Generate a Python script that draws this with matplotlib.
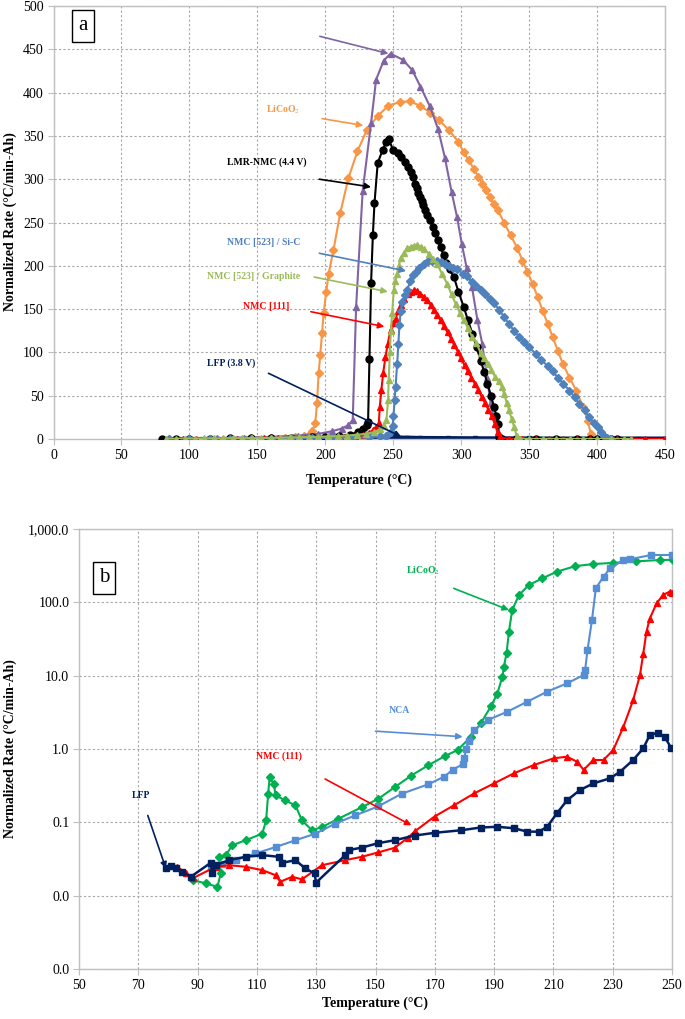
import matplotlib
matplotlib.use('Agg')
import matplotlib.pyplot as plt
from matplotlib.ticker import FixedLocator, FixedFormatter, NullLocator

plt.rcParams['font.family'] = ['Liberation Serif', 'DejaVu Serif']
plt.rcParams['mathtext.fontset'] = 'stix'

# ---------------- panel a : linear rate vs temperature ----------------
T_pur = [80, 100, 120, 140, 160, 180, 195, 205, 212, 217, 220.2, 222.7, 227.5, 233.7, 237.4, 243, 248, 257, 264, 270,
         277, 283, 288, 293, 297, 300.5, 304, 308, 312, 315.5, 319, 321.7, 325, 327.5, 330]
V_pur = [0, 0.5, 1, 1.5, 2.5, 4, 6, 9, 12, 16, 22, 153, 286, 365, 415, 437, 445, 438, 426, 407,
         384, 358, 325, 285, 256, 225, 198, 175, 137, 110, 71, 41, 17, 2, 0]

T_org = [85, 100, 115, 130, 145, 160, 170, 178, 184, 188, 190.5, 192.6, 193.9, 195.1, 196.3, 197.6, 198.8, 200.7, 202.5, 206,
         211, 217, 223.6, 230.6, 238.6, 246.5, 254.7, 262.2, 269.6, 277.1, 283.8, 290.8, 298, 301.9, 305.5, 309.3, 312.5, 315.5,
         318.5, 321.2, 324, 327.1, 331.5, 336.5, 341.4, 345.1, 348.8, 352.6, 356.3, 360, 363.7, 367.4, 371.1, 374.8, 379.7,
         384.7, 389.6, 393.3, 395.3, 397, 400, 405, 410]
V_org = [0, 0.2, 0.3, 0.5, 0.7, 1.0, 1.5, 2.2, 3.5, 5, 9, 18, 41, 76, 97, 122, 145, 170, 191, 218,
         261, 301, 332, 357, 373, 385, 389, 390, 385, 377, 368, 357, 343, 331, 322, 312, 303, 295,
         287, 279, 271, 264, 250, 235, 220, 206, 193, 179, 164, 148, 133, 117.5, 102, 87, 71,
         56, 37, 21, 6, 1, 0, 0, 0]

T_blk = [80, 90, 100, 115, 130, 145, 160, 175, 190, 200, 210, 218, 224, 228, 230.5, 231.5, 232.5, 233.7, 235, 236.2,
         238.6, 242.3, 244.8, 246.8, 249.8, 253.5, 256, 258.5, 261, 263, 264.8, 266, 267.3, 268.5, 270, 271, 272.2, 273.4,
         275.2, 277.1, 279, 280.8, 282.8, 284.9, 287, 289, 291.5, 294.7, 298, 302, 305, 308.3, 311.3, 314.4, 317, 319.3,
         322, 324.2, 326, 327.2, 327.8, 330, 340, 355, 370, 385, 395, 400, 405, 410, 415]
V_blk = [0, 0.2, 0.3, 0.4, 0.6, 0.8, 1.0, 1.3, 1.8, 2.5, 3.5, 5, 8, 12, 16, 20, 92, 180, 235, 272,
         319, 334, 343, 346, 334, 330, 326, 320, 314.6, 308, 303, 294.6, 290, 284, 280, 275, 270, 264.6,
         259, 253, 245, 237.8, 230, 221.5, 212, 203, 196, 186.8, 170, 152, 137, 121.5, 106, 90.6, 77, 63.7,
         50, 36.7, 26, 17.5, 2, 0, 0, 0, 0, 0, 0, 0, 0, 0, 0]

T_blu = [85, 100, 115, 130, 145, 160, 175, 190, 205, 220, 232, 240, 245, 248, 249.5, 250.2, 251, 251.7, 252.9, 253.8,
         254.6, 255.5, 256.6, 258.5, 260.3, 262.7, 264.5, 266.4, 269, 272.5, 275.5, 278.7, 282, 285, 288, 291, 294, 297.2,
         301, 304.6, 308, 311, 314.4, 317.5, 321, 324.2, 328, 331.6, 335, 339, 342.5, 346.4, 350, 355, 359, 363.7, 367.4,
         371.1, 375, 379.7, 383.5, 387, 391, 394.4, 397.5, 400.5, 403, 405.4, 407.5, 410]
V_blu = [0, 0.2, 0.3, 0.3, 0.4, 0.5, 0.6, 0.8, 1.0, 1.4, 2, 3, 4, 8, 15, 26, 45, 60, 87, 110,
         132, 148, 158, 166, 172, 183, 189, 193, 198, 202, 205, 206, 205, 204, 202, 200, 198, 196,
         191, 188, 181, 177, 172, 167, 162, 157, 149, 141, 133, 125, 118, 112, 106, 98, 91, 84.5, 78,
         71, 64, 56, 48, 40.6, 33, 25, 19, 13.6, 8, 4, 1, 0]

T_red = [85, 95, 105, 115, 125, 135, 145, 155, 165, 175, 185, 195, 205, 215, 222, 228, 232, 235, 237.5, 239.4,
         240.1, 241.3, 242.6, 244.3, 246, 248, 250, 251.7, 253.5, 255.4, 258, 261, 263, 265.2, 267.5, 270, 272.5, 275,
         277.5, 280, 282.5, 284.9, 287.5, 290, 292.5, 295, 297.5, 300, 302.5, 305, 307.5, 310, 312.5, 315, 317.5, 320,
         322.5, 325, 327, 328.5, 335, 345, 355, 365, 375, 385, 395, 405, 415, 425, 435, 450]
V_red = [0.2, 0.3, 0.3, 0.4, 0.4, 0.5, 0.6, 0.7, 0.8, 1.0, 1.2, 1.5, 1.8, 2.3, 3, 4.5, 7, 10, 14, 18,
         37, 57, 76, 95, 110, 126, 134, 139, 148, 155, 162, 167, 170, 171.5, 171, 168, 164, 160,
         155, 149, 143, 137, 130, 123, 116, 108, 101, 93, 85, 78, 71, 64, 57, 49, 42, 34,
         26, 17, 8, 2, 0, 0, 0, 0, 0, 0, 0, 0, 0, 0, 0, 0]

T_grn = [83, 90, 97, 104, 111, 118, 125, 132, 139, 146, 153, 160, 167, 174, 181, 188, 195, 202, 209, 216,
         223, 230, 236, 240, 243, 245, 246.2, 246.7, 247.5, 248.3, 249.2, 250.4, 251.6, 252.9, 254.1, 255.4, 257.8, 260.3,
         262.8, 265.2, 267.7, 270.2, 272.7, 276.2, 279.3, 282.4, 286.1, 289.8, 292.9, 296, 299, 302, 305, 308, 311.2,
         314.4, 317, 319.5, 322, 325, 327.9, 330, 331.6, 333.5, 335.3, 337.2, 339, 341, 343, 350, 360, 370, 380, 390,
         400, 410, 420, 425]
V_grn = [0, 0.3, 0.4, 0.5, 0.6, 0.7, 0.8, 0.9, 1.0, 1.1, 1.2, 1.4, 1.6, 1.8, 2.0, 2.3, 2.6, 3.0, 3.4, 4.0,
         4.8, 6, 8, 11, 15, 22, 45, 68, 100, 125, 145, 172, 183, 191, 200, 209, 215, 220,
         222, 223, 224, 222, 219, 214, 208, 202, 190, 179, 167, 156, 146, 137, 128, 118, 111,
         99, 93, 87, 80, 72, 67, 60, 52, 42, 33, 23, 13.6, 3, 0.5, 0, 0, 0, 0, 0,
         0, 0, 0, 0]

T_lfpa = [80, 100, 120, 140, 160, 180, 200, 220, 240, 250, 260, 270, 290, 310, 330, 350, 370, 390, 410, 430, 450]
V_lfpa = [0, 0, 0, 0.2, 0.3, 0.4, 0.5, 0.8, 1.2, 1.8, 1.5, 1.2, 1, 0.8, 0.7, 0.6, 0.5, 0.5, 0.5, 0.5, 0.5]

# ---------------- panel b : log rate vs temperature ----------------
T_lfp = [79.3, 81, 82.7, 84.9, 87.7, 94.4, 95, 96.1, 100.6, 106.2, 111.8, 117.4, 118.5, 123, 126.3, 129.5, 129.9,
         139.8, 140.9, 145.4, 150.9, 156.5, 163.2, 170, 178.9, 185.5, 191.1, 196.7, 201.2, 205.1, 207.9, 211.2,
         214.6, 219, 223.5, 229.1, 232.5, 236.9, 240.3, 242.5, 245.3, 247.5, 249.8]
R_lfp = [0.0235, 0.0253, 0.0235, 0.0212, 0.0181, 0.028, 0.0205, 0.026, 0.0305, 0.0339, 0.0357, 0.0339, 0.028, 0.0305,
         0.0235, 0.0201, 0.015, 0.0357, 0.0417, 0.0453, 0.052, 0.057, 0.066, 0.072, 0.078, 0.085, 0.087, 0.083, 0.0746,
         0.0746, 0.087, 0.133, 0.2, 0.276, 0.34, 0.398, 0.49, 0.708, 1.02, 1.55, 1.67, 1.47, 1.02]

T_nmc = [83.2, 86, 88.3, 96.1, 100.6, 106.2, 111.8, 116.3, 117.9, 121.9, 125.2, 131.9, 139.8, 145.4, 151, 156.5,
         161, 163.2, 169.9, 176.6, 183.3, 190, 196.7, 203.4, 210.1, 214.6, 218, 220.2, 223.5, 226.9, 230.2, 233.6,
         236.9, 239.2, 240.3, 241.4, 242.5, 244.8, 247, 249.2, 250]
R_nmc = [0.0248, 0.0201, 0.0172, 0.0248, 0.026, 0.0248, 0.0223, 0.019, 0.0155, 0.0181, 0.0167, 0.026, 0.0305, 0.0339,
         0.039, 0.045, 0.062, 0.075, 0.12, 0.172, 0.248, 0.34, 0.466, 0.605, 0.746, 0.786, 0.67, 0.52, 0.708, 0.708,
         0.97, 2.0, 4.65, 10.2, 20, 40, 60, 97, 126, 140, 132]

T_nca = [94.4, 98.3, 102.8, 109.5, 116.3, 123, 129.7, 136.4, 143.1, 150.9, 158.8, 167.8, 173.2, 176, 179.4, 180, 180.5,
         181.5, 183.3, 187.8, 194.5, 201.2, 207.9, 214.6, 220.2, 220.7, 221.5, 223, 224.3, 226.9, 229.1, 233.6, 236,
         243, 250]
R_nca = [0.0248, 0.0273, 0.0305, 0.0376, 0.046, 0.057, 0.070, 0.096, 0.124, 0.165, 0.245, 0.33, 0.42, 0.52, 0.62,
         0.75, 1.0, 1.3, 1.82, 2.48, 3.23, 4.42, 6.05, 7.86, 10.2, 11.9, 22.4, 57, 155, 224, 291, 378, 389, 442, 442]

T_lco = [88.3, 92.8, 96.7, 97.8, 97.2, 99.5, 101.7, 106.2, 111.8, 113.1, 113.8, 114.3, 115.7, 116.3, 119.6, 123,
         125.2, 128.6, 131.9, 137.5, 145.4, 151, 156.5, 162.1, 167.8, 173.4, 177.7, 182.2, 185.5, 188.9, 191.1, 192.8,
         193.3, 194.2, 195, 196.1, 198.4, 201.7, 206.2, 211.2, 217.4, 223.5, 230.2, 238, 245.9, 250.3]
R_lco = [0.0163, 0.0147, 0.0132, 0.0201, 0.0339, 0.0357, 0.0487, 0.057, 0.07, 0.106, 0.245, 0.41, 0.335, 0.233,
         0.199, 0.17, 0.106, 0.078, 0.086, 0.112, 0.161, 0.21, 0.302, 0.435, 0.6, 0.8, 0.97, 1.47, 2.24, 3.8, 5.7,
         9.7, 13.3, 20.2, 39.8, 78.5, 126, 172, 212, 262, 312, 333, 345, 362, 378, 380]

yticks_b = [0.001, 0.01, 0.1, 1, 10, 100, 1000]
ylabels_b = ['0.0', '0.0', '0.1', '1.0', '10.0', '100.0', '1,000.0']

c_pur = '#8064A2'
c_org = '#F79646'
c_blu = '#4F81BD'
c_grn = '#9BBB59'
c_red = '#FF0000'
c_nav = '#002060'
c_lgr = '#00B050'
c_nca = '#558ED5'
grid_c = '#A6A6A6'
spine_c = '#BFBFBF'

fig = plt.figure(figsize=(6.85, 10.19), dpi=100)


def style_axes(ax):
    for s in ax.spines.values():
        s.set_color(spine_c)
        s.set_linewidth(1)
    ax.tick_params(axis='both', which='major', direction='out', length=4, color=spine_c,
                   labelsize=10, pad=3)
    ax.grid(True, color=grid_c, linestyle=(0, (2, 2)), linewidth=0.8)
    ax.set_axisbelow(True)


# ---- panel a
ax1 = fig.add_axes([53.5 / 685, 1 - 439 / 1019, (665 - 53.5) / 685, 433 / 1019])
style_axes(ax1)
ax1.set_xlim(0, 450)
ax1.set_ylim(0, 500)
ax1.set_xticks(range(0, 451, 50))
ax1.set_yticks(range(0, 501, 50))

ax1.plot(T_lfpa, V_lfpa, color=c_nav, lw=3, marker='s', ms=3, zorder=2)
ax1.plot(T_org, V_org, color=c_org, lw=1.5, marker='D', ms=4, zorder=3)
ax1.plot(T_pur, V_pur, color=c_pur, lw=1.5, marker='^', ms=5, zorder=4)
ax1.plot(T_blk, V_blk, color='black', lw=1.5, marker='o', ms=5, zorder=5)
ax1.plot(T_red, V_red, color=c_red, lw=1.5, marker='^', ms=5, zorder=6)
ax1.plot(T_blu, V_blu, color=c_blu, lw=1.5, marker='D', ms=4.5, zorder=7)
ax1.plot(T_grn, V_grn, color=c_grn, lw=1.5, marker='^', ms=5, zorder=8)

arr_a = [
    (None, c_pur, (246.5, 445), (196, 465), None),
    (r'LiCoO$_2$', c_org, (228, 362), (197.6, 370), (169, 380)),
    ('LMR-NMC (4.4 V)', 'black', (233.7, 291), (195.6, 300), (156.6, 320)),
    ('NMC [523] / Si-C', c_blu, (259.5, 194), (195.6, 214.5), (154.5, 226.7)),
    ('NMC [523] / Graphite', c_grn, (246, 170), (191.9, 187), (147, 188)),
    ('NMC [111]', c_red, (243.5, 129.7), (189.4, 147), (156.7, 152.8)),
    ('LFP (3.8 V)', c_nav, (255.9, 2.7), (158.2, 75.9), (130.4, 88)),
]
for lab, col, tip, tail, lpos in arr_a:
    ax1.annotate('', xy=tip, xytext=tail,
                 arrowprops=dict(arrowstyle='-|>', color=col, lw=1.2, mutation_scale=9,
                                 shrinkA=0, shrinkB=0), zorder=10)
    if lab:
        ax1.text(lpos[0], lpos[1], lab, color=col, fontsize=7, fontweight='bold',
                 ha='center', va='center', zorder=10)

fig.text(83 / 685, 1 - 26 / 1019, 'a', fontsize=15, ha='center', va='center',
         bbox=dict(boxstyle='square,pad=0.3', fc='white', ec='black', lw=1))

# ---- panel b
ax2 = fig.add_axes([79 / 685, 1 - 969 / 1019, 593 / 685, 440 / 1019])
style_axes(ax2)
ax2.set_yscale('log')
ax2.set_xlim(50, 250)
ax2.set_ylim(0.001, 1000)
ax2.set_xticks(range(50, 251, 20))
ax2.yaxis.set_major_locator(FixedLocator(yticks_b))
ax2.yaxis.set_major_formatter(FixedFormatter(ylabels_b))
ax2.yaxis.set_minor_locator(NullLocator())

ax2.plot(T_lco, R_lco, color=c_lgr, lw=1.5, marker='D', ms=4, zorder=3)
ax2.plot(T_nca, R_nca, color=c_nca, lw=1.5, marker='s', ms=4, zorder=4)
ax2.plot(T_nmc, R_nmc, color=c_red, lw=1.5, marker='^', ms=5, zorder=5)
ax2.plot(T_lfp, R_lfp, color=c_nav, lw=1.8, marker='s', ms=4, zorder=6)

arr_b = [
    (r'LiCoO$_2$', c_lgr, (195, 78.5), (176.4, 155), (166, 270)),
    ('NCA', c_nca, (179.4, 1.47), (150, 1.75), (158, 3.3)),
    ('NMC (111)', c_red, (162.1, 0.091), (133, 0.39), (117.4, 0.81)),
    ('LFP', c_nav, (79.3, 0.0235), (73.2, 0.124), (70.9, 0.233)),
]
for lab, col, tip, tail, lpos in arr_b:
    ax2.annotate('', xy=tip, xytext=tail,
                 arrowprops=dict(arrowstyle='-|>', color=col, lw=1.2, mutation_scale=9,
                                 shrinkA=0, shrinkB=0), zorder=10)
    ax2.text(lpos[0], lpos[1], lab, color=col, fontsize=7, fontweight='bold',
             ha='center', va='center', zorder=10)

fig.text(104 / 685, 1 - 578 / 1019, 'b', fontsize=15, ha='center', va='center',
         bbox=dict(boxstyle='square,pad=0.3', fc='white', ec='black', lw=1))

# axis titles
for yc in (222, 749):
    fig.text(10 / 685, 1 - yc / 1019, 'Normalized Rate (°C/min-Ah)', rotation=90,
             fontsize=10, fontweight='bold', ha='center', va='center')
fig.text(359 / 685, 1 - 480 / 1019, 'Temperature (°C)', fontsize=10, fontweight='bold',
         ha='center', va='center')
fig.text(375 / 685, 1 - 1003 / 1019, 'Temperature (°C)', fontsize=10, fontweight='bold',
         ha='center', va='center')

fig.savefig('out.png', dpi=100)
